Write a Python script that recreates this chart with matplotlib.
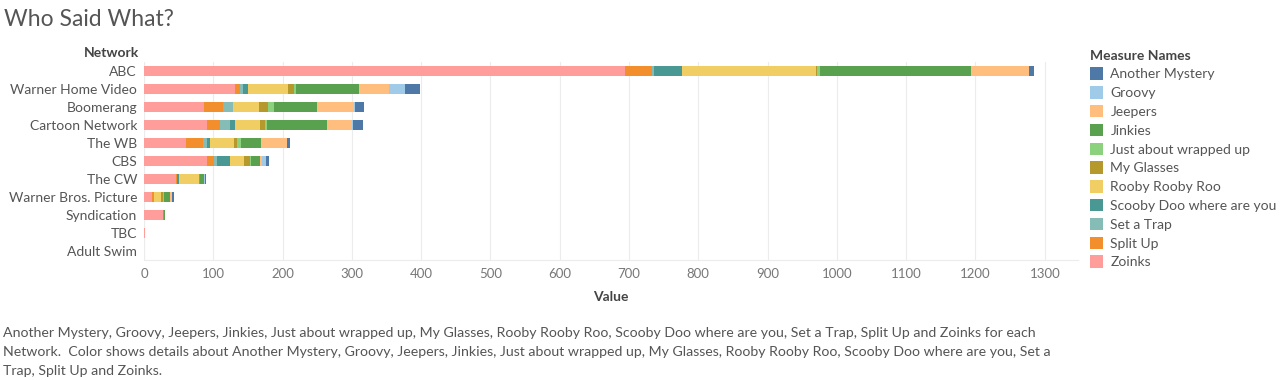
import matplotlib
matplotlib.use("Agg")
import matplotlib.pyplot as plt
from matplotlib.patches import Patch
import numpy as np

plt.rcParams['font.family'] = ['Lato', 'DejaVu Sans']

networks = ["ABC", "Warner Home Video", "Boomerang", "Cartoon Network", "The WB", "CBS",
            "The CW", "Warner Bros. Picture", "Syndication", "TBC", "Adult Swim"]

# stacked from left to right
zoinks        = [694, 132, 87, 91, 60, 91, 46, 12, 28, 1, 0]
split_up      = [39, 6, 27, 19, 25, 10, 1, 2, 0, 0, 0]
set_a_trap    = [3, 5, 14, 14, 6, 5, 1, 1, 0, 0, 0]
scooby_doo    = [40, 7, 0, 7, 4, 18, 2, 0, 0, 0, 0]
rooby         = [194, 58, 38, 36, 35, 21, 30, 9, 0, 0, 0]
my_glasses    = [2, 9, 13, 7, 4, 8, 1, 4, 1, 0, 0]
just_about    = [4, 2, 8, 3, 6, 1, 0, 1, 0, 0, 0]
jinkies       = [218, 91, 63, 87, 29, 13, 5, 9, 1, 0, 0]
jeepers       = [83, 43, 53, 36, 37, 3, 1, 2, 0, 0, 0]
groovy        = [0, 24, 1, 1, 1, 6, 1, 1, 0, 0, 0]
another_myst  = [8, 21, 13, 15, 4, 5, 1, 2, 1, 1, 0]

series = [
    ("Zoinks", zoinks, "#FF9D9A"),
    ("Split Up", split_up, "#F28E2B"),
    ("Set a Trap", set_a_trap, "#86BCB6"),
    ("Scooby Doo where are you", scooby_doo, "#499894"),
    ("Rooby Rooby Roo", rooby, "#F1CE63"),
    ("My Glasses", my_glasses, "#B6992D"),
    ("Just about wrapped up", just_about, "#8CD17D"),
    ("Jinkies", jinkies, "#59A14F"),
    ("Jeepers", jeepers, "#FFBE7D"),
    ("Groovy", groovy, "#A0CBE8"),
    ("Another Mystery", another_myst, "#4E79A7"),
]

xticks = list(range(0, 1301, 100))

fig = plt.figure(figsize=(12.8, 3.8), dpi=100)
ax = fig.add_axes([144/1280, 1-260/380, (1078-144)/1280, 198/380])

y = np.arange(len(networks))
left = np.zeros(len(networks))
for name, vals, col in series:
    v = np.array(vals, dtype=float)
    ax.barh(y, v, left=left, height=0.52, color=col, edgecolor='none', zorder=2)
    left += v

ax.set_ylim(len(networks)-0.5, -0.5)
ax.set_xlim(0, 1348)
ax.set_xticks(xticks)
ax.set_xticklabels([str(t) for t in xticks], color="#777777", fontsize=9.5)
ax.set_yticks(y)
ax.set_yticklabels(networks, color="#555555", fontsize=10)
ax.tick_params(axis='both', length=0, pad=6)
ax.tick_params(axis='y', pad=5)
ax.grid(axis='x', color="#ececec", linewidth=0.8, zorder=0)
for s in ["top", "right", "left"]:
    ax.spines[s].set_visible(False)
ax.spines["bottom"].set_color("#ececec")
ax.axvline(0, color="#dddddd", linewidth=0.8, zorder=1)
ax.set_xlabel("Value", color="#444444", fontsize=10, fontweight='bold', labelpad=8)

fig.text(139/1280, 1-53/380, "Network", ha='right', va='center', color="#444444",
         fontsize=10, fontweight='bold')

fig.text(4/1280, 1-20/380, "Who Said What?", ha='left', va='center', color="#555555", fontsize=16.5)

handles = [Patch(facecolor=col, edgecolor='none', label=name) for name, _, col in series[::-1]]
leg = fig.legend(handles=handles, loc='upper left', bbox_to_anchor=(1084/1280, 1-44/380),
                 frameon=False, fontsize=10, title="Measure Names", title_fontsize=10,
                 handlelength=1.0, handleheight=1.0, handletextpad=0.5, labelspacing=0.42,
                 alignment='left', borderaxespad=0)
leg.get_title().set_color("#444444")
leg.get_title().set_fontweight('bold')
for t in leg.get_texts():
    t.set_color("#555555")

caption = ["Another Mystery, Groovy, Jeepers, Jinkies, Just about wrapped up, My Glasses, Rooby Rooby Roo, Scooby Doo where are you, Set a Trap, Split Up and Zoinks for each",
           "Network.  Color shows details about Another Mystery, Groovy, Jeepers, Jinkies, Just about wrapped up, My Glasses, Rooby Rooby Roo, Scooby Doo where are you, Set a",
           "Trap, Split Up and Zoinks."]
for i, line in enumerate(caption):
    fig.text(3/1280, 1-(333+19*i)/380, line, ha='left', va='center', color="#555555", fontsize=10.2)

fig.savefig("out.png", dpi=100)
